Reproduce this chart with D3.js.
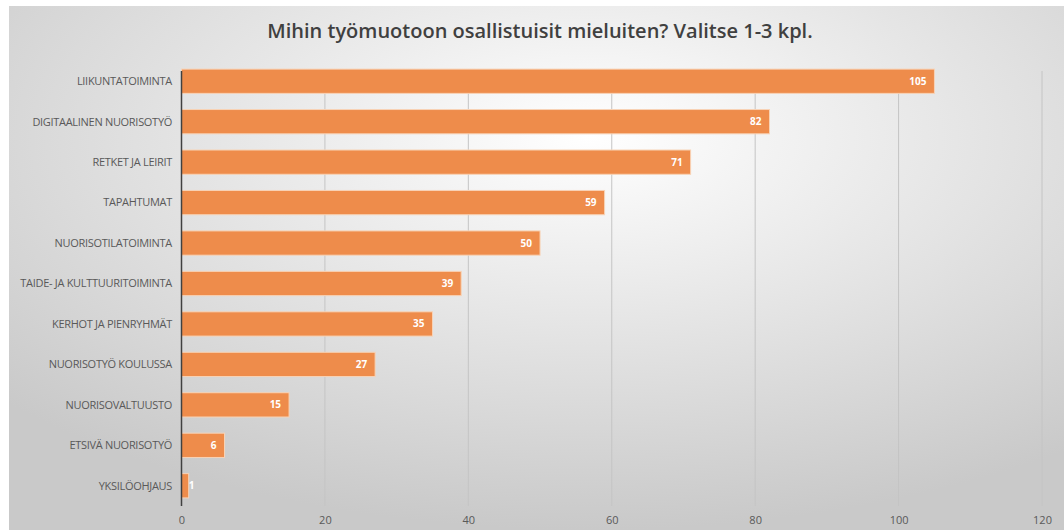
<!DOCTYPE html>
<html>
<head>
<meta charset="utf-8">
<script src="https://cdn.jsdelivr.net/npm/d3@7"></script>
<style>
  body { margin: 0; background: #fff; }
  text { font-family: "Open Sans", sans-serif; }
</style>
</head>
<body>
<script>
var categories = ["LIIKUNTATOIMINTA", "DIGITAALINEN NUORISOTYÖ", "RETKET JA LEIRIT", "TAPAHTUMAT",
    "NUORISOTILATOIMINTA", "TAIDE- JA KULTTUURITOIMINTA", "KERHOT JA PIENRYHMÄT",
    "NUORISOTYÖ KOULUSSA", "NUORISOVALTUUSTO", "ETSIVÄ NUORISOTYÖ", "YKSILÖOHJAUS"];
var values = [105, 82, 71, 59, 50, 39, 35, 27, 15, 6, 1];
var ticks = [0, 20, 40, 60, 80, 100, 120];
var title = "Mihin työmuotoon osallistuisit mieluiten? Valitse 1-3 kpl.";

var W = 1064, H = 530;
var svg = d3.select("body").append("svg")
    .attr("width", W)
    .attr("height", H);

// background gradient like the Excel chart area
var grad = svg.append("defs").append("radialGradient")
    .attr("id", "bg")
    .attr("cx", "55%").attr("cy", "25%").attr("r", "75%");
grad.append("stop").attr("offset", "0%").attr("stop-color", "#ffffff");
grad.append("stop").attr("offset", "100%").attr("stop-color", "#c9c9c9");

svg.append("rect")
    .attr("x", 9).attr("y", 6)
    .attr("width", W - 9).attr("height", H - 6)
    .attr("fill", "url(#bg)");

var x = d3.scaleLinear()
    .domain([0, 120])
    .range([181.5, 1042]);

var y = d3.scaleBand()
    .domain(categories)
    .range([61, 506])
    .paddingInner(0.4)
    .paddingOuter(0.2);

// gridlines
svg.append("g")
    .selectAll("line")
    .data(ticks.slice(1))
    .enter()
    .append("line")
    .attr("x1", d => x(d)).attr("x2", d => x(d))
    .attr("y1", 71).attr("y2", 506)
    .attr("stroke", "#c4c4c4")
    .attr("stroke-width", 1);

// x axis
var xAxis = svg.append("g")
    .attr("transform", "translate(0, 506)")
    .call(d3.axisBottom(x).tickValues(ticks).tickSize(0).tickPadding(10));
xAxis.select(".domain").remove();
xAxis.selectAll("text")
    .attr("fill", "#595959")
    .style("font-size", "11px");

// bars
svg.selectAll("rect.bar")
    .data(values)
    .enter()
    .append("rect")
    .attr("class", "bar")
    .attr("x", x(0))
    .attr("y", (d, i) => y(categories[i]))
    .attr("width", d => x(d) - x(0))
    .attr("height", y.bandwidth())
    .attr("fill", "#ee8c4b")
    .attr("stroke", "#f8d3b6")
    .attr("stroke-width", 1);

// value labels
svg.selectAll("text.val")
    .data(values)
    .enter()
    .append("text")
    .attr("class", "val")
    .attr("x", d => Math.max(x(d) - 8, x(0) + 13))
    .attr("y", (d, i) => y(categories[i]) + y.bandwidth() / 2)
    .attr("dy", "0.35em")
    .attr("text-anchor", "end")
    .attr("fill", "#ffffff")
    .style("font-size", "10px")
    .style("font-weight", "bold")
    .text(d => d);

// category labels
svg.selectAll("text.cat")
    .data(categories)
    .enter()
    .append("text")
    .attr("class", "cat")
    .attr("x", 172)
    .attr("y", d => y(d) + y.bandwidth() / 2)
    .attr("dy", "0.35em")
    .attr("text-anchor", "end")
    .attr("fill", "#595959")
    .style("font-size", "11px")
    .style("letter-spacing", "-0.3px")
    .text(d => d);

// y axis line
svg.append("line")
    .attr("x1", x(0)).attr("x2", x(0))
    .attr("y1", 71).attr("y2", 506)
    .attr("stroke", "#404040")
    .attr("stroke-width", 1.5);

svg.append("text")
    .attr("x", 540)
    .attr("y", 38)
    .attr("text-anchor", "middle")
    .attr("fill", "#404040")
    .style("font-size", "20px")
    .style("font-weight", "600")
    .text(title);
</script>
</body>
</html>
